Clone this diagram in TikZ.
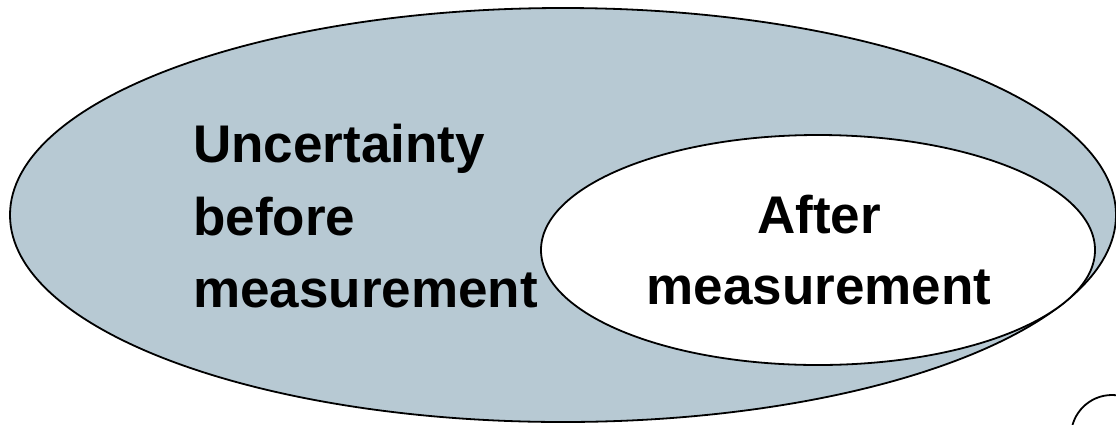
\documentclass[tikz,border=0pt]{standalone}
\usepackage{fontspec}
\setmainfont{Liberation Sans}
\usetikzlibrary{shapes.geometric}
\definecolor{setblue}{HTML}{B7C9D3}
\tikzset{
  setline/.style={draw=black, line width=1.8pt},
  lbl/.style={inner sep=0pt, font=\fontsize{53}{60}\selectfont\bfseries},
}
\begin{document}
\begin{tikzpicture}[x=1pt,y=-1pt]
\useasboundingbox (0,0) rectangle (1116,424);
\begin{scope}
\clip (0,0) rectangle (1116,424);
\draw[setline, fill=setblue] (563,215) ellipse [x radius=553, y radius=207];
\draw[setline, fill=white] (818,250) ellipse [x radius=277, y radius=115];
\draw[setline] (1112,436) circle [radius=41];
\end{scope}
\node[lbl, anchor=base west] (u1) at (193,162) {Uncertainty};
\node[lbl, anchor=base west] (u2) at (193,235) {before};
\node[lbl, anchor=base west] (u3) at (193,307) {measurement};
\node[lbl, anchor=base] (a1) at (819,233) {After};
\node[lbl, anchor=base] (a2) at (819,304) {measurement};
\end{tikzpicture}
\end{document}
